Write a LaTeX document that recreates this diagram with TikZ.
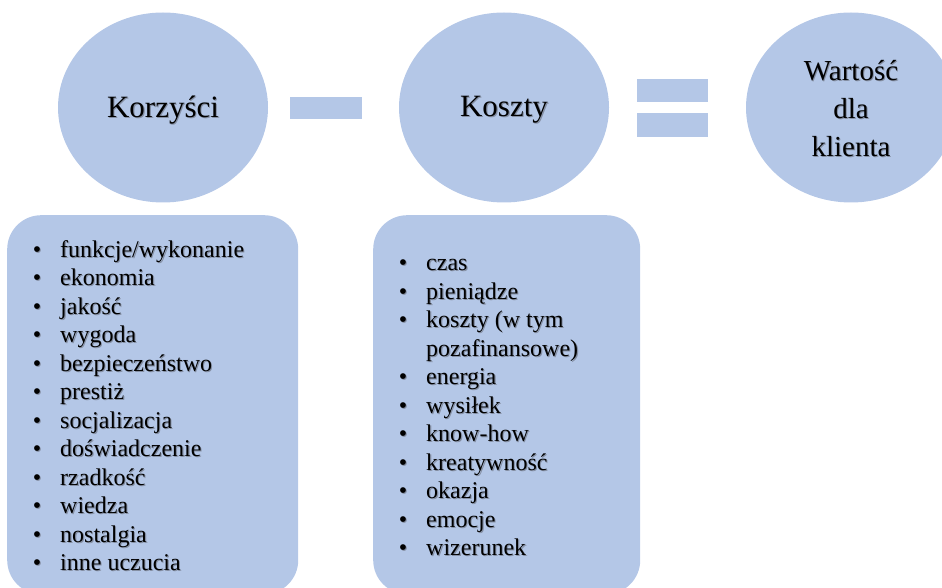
\documentclass[tikz,border=0pt]{standalone}
\usepackage{fontspec}
\setmainfont{Liberation Serif}
\usetikzlibrary{shapes.geometric}
\definecolor{paleblue}{RGB}{180,199,231}
\definecolor{txtshadow}{RGB}{132,142,162}
\tikzset{
  bubble/.style={ellipse, fill=paleblue, minimum width=210pt, minimum height=190pt, inner sep=0pt},
  headtext/.style={inner sep=0pt, align=center, font=\fontsize{31}{38}\selectfont},
  listbox/.style={fill=paleblue, rounded corners=34pt, inner sep=0pt},
  opbar/.style={fill=paleblue, inner sep=0pt},
  listtext/.style={anchor=base west, inner sep=0pt, font=\fontsize{24}{28.5}\selectfont}
}
% text with a soft drop shadow
\newcommand\sh[1]{\leavevmode\rlap{\kern1.1pt\raisebox{-1.1pt}{\textcolor{txtshadow}{#1}}}#1}
% bullet hanging to the left of an item
\newcommand\itm[1]{\llap{\sh{\textbullet}\hspace{19pt}}\sh{#1}}
\begin{document}
\begin{tikzpicture}[x=1pt,y=-1pt]
\useasboundingbox (0,0) rectangle (942,588);
\clip (0,0) rectangle (942,588);

% top row: benefits - costs = value
\node[bubble] (korz) at (163,107.5) {};
\node[bubble] (koszt) at (504,107.5) {};
\node[bubble] (wart) at (851,107.5) {};
\node[headtext] (korzt) at ([yshift=-3pt]korz.center) {\sh{Korzyści}};
\node[headtext] (kosztt) at ([yshift=-3pt]koszt.center) {\sh{Koszty}};
\node[headtext, font=\fontsize{29}{38}\selectfont] (wartt) at ([yshift=-2pt]wart.center)
  {\sh{Wartość}\\\sh{dla}\\\sh{klienta}};

\node[opbar, minimum width=72pt, minimum height=22pt] (minus) at (326,108) {};
\node[opbar, minimum width=71pt, minimum height=23pt] (eqtop) at (672.5,90.5) {};
\node[opbar, minimum width=71pt, minimum height=24pt] (eqbot) at (672.5,125) {};

% detail boxes
\node[listbox, minimum width=291pt, minimum height=379pt, anchor=north west] (bbox) at (7,215) {};
\node[listbox, minimum width=267pt, minimum height=379pt, anchor=north west] (cbox) at (373,215) {};

\node[listtext] (blist) at (60,257) {\begin{tabular}[t]{@{}l@{}}
\itm{funkcje/wykonanie}\\
\itm{ekonomia}\\
\itm{jakość}\\
\itm{wygoda}\\
\itm{bezpieczeństwo}\\
\itm{prestiż}\\
\itm{socjalizacja}\\
\itm{doświadczenie}\\
\itm{rzadkość}\\
\itm{wiedza}\\
\itm{nostalgia}\\
\itm{inne uczucia}
\end{tabular}};

\node[listtext] (clist) at (426,270.5) {\begin{tabular}[t]{@{}l@{}}
\itm{czas}\\
\itm{pieniądze}\\
\itm{koszty (w tym}\\
\sh{pozafinansowe)}\\
\itm{energia}\\
\itm{wysiłek}\\
\itm{know-how}\\
\itm{kreatywność}\\
\itm{okazja}\\
\itm{emocje}\\
\itm{wizerunek}
\end{tabular}};
\end{tikzpicture}
\end{document}
